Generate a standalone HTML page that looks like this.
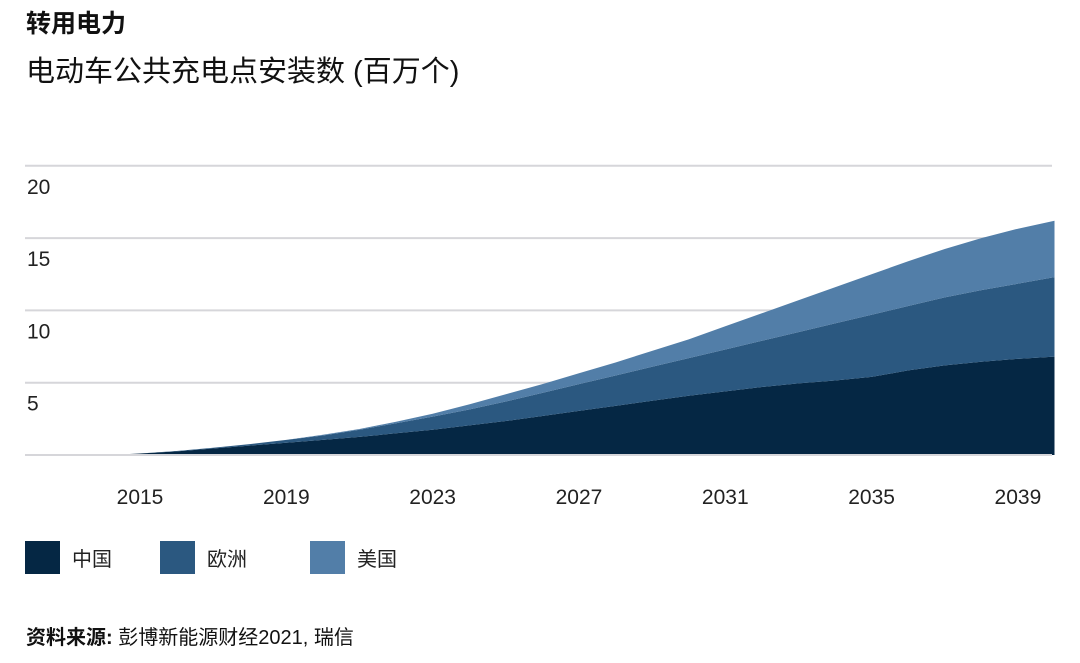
<!DOCTYPE html>
<html><head><meta charset="utf-8"><style>
body{margin:0;width:1080px;height:663px;background:#fff;font-family:"Liberation Sans","Noto Sans CJK SC",sans-serif;color:#111;overflow:hidden;position:relative}
.t{position:absolute;white-space:nowrap}
</style></head><body>
<div class="t" style="left:26px;top:4px;font-size:25px;font-weight:bold">转用电力</div>
<div class="t" style="left:26px;top:48px;font-size:29px">电动车公共充电点安装数 (百万个)</div>
<svg id="chart" width="1080" height="663" style="position:absolute;left:0;top:0"></svg>
<div class="t" style="left:26px;top:621px;font-size:20px"><b>资料来源:</b> 彭博新能源财经2021, 瑞信</div>
<script>
const years=[2014,2015,2016,2017,2018,2019,2020,2021,2022,2023,2024,2025,2026,2027,2028,2029,2030,2031,2032,2033,2034,2035,2036,2037,2038,2039,2040];
const china=[0,0.1,0.25,0.45,0.65,0.85,1.05,1.25,1.5,1.75,2.05,2.35,2.7,3.05,3.4,3.75,4.1,4.4,4.7,4.95,5.15,5.4,5.85,6.2,6.45,6.65,6.8];
const europe=[0,0,0.03,0.05,0.1,0.2,0.3,0.5,0.7,0.9,1.1,1.35,1.6,1.85,2.1,2.35,2.6,2.9,3.2,3.55,3.95,4.3,4.45,4.7,4.95,5.2,5.5];
const usa=[0,0,0,0,0,0,0.05,0.05,0.1,0.2,0.35,0.5,0.6,0.75,0.9,1.1,1.3,1.6,1.9,2.2,2.5,2.8,3.1,3.35,3.6,3.8,3.9];
const yTicks=[0,5,10,15,20];
const xTicks=[2015,2019,2023,2027,2031,2035,2039];
const seriesNames=["中国","欧洲","美国"];
const colors=["#052744","#2b5880","#527ea8"];
const svg=document.getElementById('chart');const NS="http://www.w3.org/2000/svg";
const x=v=>140+(v-2015)*36.58;
const y=v=>455-v*14.46;
function mk(t,a){const e=document.createElementNS(NS,t);for(const k in a)e.setAttribute(k,a[k]);svg.appendChild(e);return e;}
yTicks.forEach(t=>{if(t>0){const l=mk('line',{x1:25,x2:1052,y1:y(t),y2:y(t),stroke:'#d6d6da','stroke-width':2});


const tx=mk('text',{x:27,y:y(t)+28,'font-size':21,fill:'#222'});tx.textContent=t;

}});
const series=[china,europe,usa];let base=years.map(()=>0);
series.forEach((s,i)=>{const top=base.map((b,j)=>b+s[j]);
let d='M'+years.map((yr,j)=>x(yr)+','+y(top[j])).join('L');
for(let j=years.length-1;j>=0;j--)d+='L'+x(years[j])+','+y(base[j]);
const p=mk('path',{d:d+'Z',fill:colors[i]});


base=top;});
const ax=mk('line',{x1:25,x2:1052,y1:455,y2:455,stroke:'#d6d6da','stroke-width':2});


xTicks.forEach(t=>{const tx=mk('text',{x:x(t),y:504,'font-size':21,fill:'#222','text-anchor':'middle'});tx.textContent=t;

});
const lx=[25,160,310];
seriesNames.forEach((n,i)=>{const r=mk('rect',{x:lx[i],y:541,width:35,height:33,fill:colors[i]});


const tx=mk('text',{x:lx[i]+47,y:566,'font-size':20,fill:'#222'});tx.textContent=n;

});
</script>
</body></html>
